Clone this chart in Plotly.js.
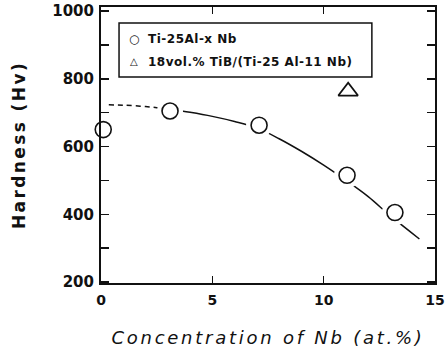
<!DOCTYPE html>
<html><head><meta charset="utf-8">
<script src="https://cdn.plot.ly/plotly-3.0.1.min.js"></script>
<style>
body{margin:0;background:#fff;}
.xtitle{letter-spacing:2.75px;}
.ytitle{letter-spacing:2.4px;}
.annotation-text{letter-spacing:0.5px;}
</style>
</head><body><div id="chart" style="width:445px;height:349px;"></div>
<script>
// Data
const nbConc = [0.1, 3.1, 7.1, 11.05, 13.2];
const hardness = [650, 705, 663, 515, 405];
const tibConc = [11.1];
const tibHardness = [763];
// guide curve (hand-drawn in original)
const dashX = [0.35, 1, 2, 3.1];
const dashY = [723, 722, 718, 710];
const fitX = [3.1, 4, 5, 6, 7, 8, 9, 10, 11, 12, 13, 14.3];
const fitY = [710, 701, 689, 674, 655, 623, 586, 545, 500, 452, 395, 327];
const xTickVals = [0,5,10,15];
const xTickText = ['0','5','10','15'];
const yTickVals = [200,300,400,500,600,700,800,900,1000];
const yTickText = ['200','','400','','600','','800','','1000'];

const traces = [
  {x: dashX, y: dashY, mode:'lines', line:{color:'#111', width:1.5, dash:'5px,4px', shape:'spline'}, showlegend:false, hoverinfo:'skip'},
  {x: fitX, y: fitY, mode:'lines', line:{color:'#111', width:1.5, shape:'spline'}, showlegend:false, hoverinfo:'skip'},
  {x: nbConc, y: hardness, mode:'markers', marker:{symbol:'circle', size:26, color:'#fff', line:{width:0}}, showlegend:false, hoverinfo:'skip', cliponaxis:false},
  {x: nbConc, y: hardness, mode:'markers', name:'Ti-25Al-x Nb', marker:{symbol:'circle', size:16, color:'#fff', line:{color:'#111', width:1.6}}, cliponaxis:false},
  {x: tibConc, y: tibHardness, mode:'markers', name:'18vol.% TiB/(Ti-25 Al-11 Nb)', marker:{symbol:'triangle-up', size:17, color:'#fff', line:{color:'#111', width:1.8}}, cliponaxis:false}
];

const B = 'DejaVu Sans, sans-serif';
const layout = {
  width:445, height:349,
  margin:{l:101, r:10, t:7, b:66},
  paper_bgcolor:'#fff', plot_bgcolor:'#fff',
  showlegend:false,
  xaxis:{range:[0,15], tickvals:xTickVals, ticktext:xTickText.map(t=>'<b>'+t+'</b>'), ticks:'inside', ticklen:7, tickwidth:1.5, tickcolor:'#111',
    showline:true, linewidth:2, linecolor:'#111', mirror:'ticks', showgrid:false, zeroline:false, ticklabelstandoff:3,
    ticklabeloverflow:'allow',
    tickfont:{family:B, size:14, color:'#111'},
    title:{text:'<i>Concentration of Nb (at.%)</i>', font:{family:B, size:18, color:'#111'}, standoff:25}},
  yaxis:{range:[197,1012], tickvals:yTickVals, ticktext:yTickText.map(t=>t?'<b>'+t+'</b>':''), ticks:'inside', ticklen:8, tickwidth:1.5, tickcolor:'#111',
    showline:true, linewidth:2, linecolor:'#111', mirror:'ticks', showgrid:false, zeroline:false, ticklabelstandoff:2,
    ticklabeloverflow:'allow',
    tickfont:{family:B, size:15, color:'#111'},
    title:{text:'<b>Hardness (Hv)</b>', font:{family:B, size:17, color:'#111'}, standoff:22}},
  shapes:[{type:'rect', xref:'paper', yref:'paper', x0:0.054, x1:0.811, y0:0.746, y1:0.942, line:{color:'#111', width:1.5}, fillcolor:'#fff'}],
  annotations:[
    {xref:'paper', yref:'paper', x:0.099, y:0.884, xanchor:'center', yanchor:'middle', text:'○', showarrow:false, font:{family:B, size:12, color:'#111'}},
    {xref:'paper', yref:'paper', x:0.135, y:0.884, xanchor:'left', yanchor:'middle', text:'<b>Ti-25Al-x Nb</b>', showarrow:false, font:{family:B, size:12, color:'#111'}},
    {xref:'paper', yref:'paper', x:0.099, y:0.801, xanchor:'center', yanchor:'middle', text:'△', showarrow:false, font:{family:B, size:10, color:'#111'}},
    {xref:'paper', yref:'paper', x:0.135, y:0.801, xanchor:'left', yanchor:'middle', text:'<b>18vol.% TiB/(Ti-25 Al-11 Nb)</b>', showarrow:false, font:{family:B, size:12, color:'#111'}}
  ]
};
Plotly.newPlot('chart', traces, layout, {displayModeBar:false, staticPlot:true});
</script></body></html>
